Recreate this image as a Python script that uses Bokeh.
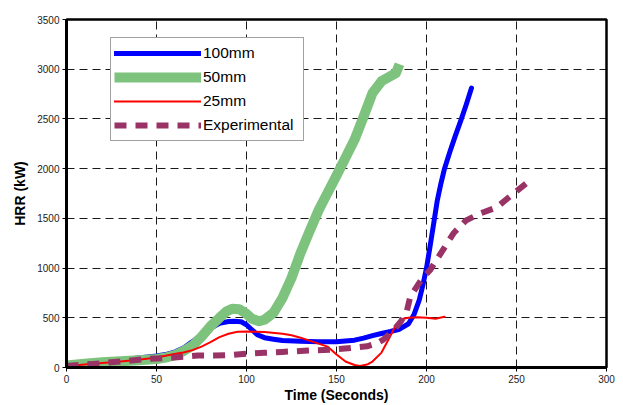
from bokeh.plotting import figure
from bokeh.models import Range1d, FixedTicker, Legend, LegendItem
from bokeh.embed import file_html
from bokeh.resources import INLINE

# ---- data ----
t_100 = [0, 10, 20, 30, 40, 50, 55, 60, 65, 70, 75, 80, 85, 90, 93, 97, 100, 103, 106, 110, 115, 120,
         130, 140, 150, 160, 165, 170, 175, 180, 185, 190, 193, 196, 198, 200, 202, 204, 206, 208,
         210, 213, 216, 219, 222, 225]
hrr_100 = [20, 40, 60, 78, 95, 115, 130, 155, 195, 260, 330, 395, 445, 462, 466, 460, 430, 380, 330, 300,
           285, 272, 265, 260, 260, 275, 295, 320, 342, 362, 385, 440, 530, 680, 830, 1000, 1220, 1450,
           1680, 1850, 2000, 2170, 2330, 2480, 2640, 2810]

t_50 = [0, 10, 20, 30, 40, 50, 55, 60, 65, 70, 75, 80, 85, 89, 92, 96, 100, 103, 107, 110, 115, 120,
        125, 130, 135, 140, 145, 150, 155, 160, 165, 170, 175, 180, 183, 185]
hrr_50 = [20, 38, 52, 63, 72, 85, 100, 125, 165, 220, 310, 415, 500, 565, 590, 585, 540, 490, 465, 480,
          550, 700, 900, 1150, 1370, 1580, 1755, 1930, 2110, 2290, 2520, 2760, 2880, 2930, 2960, 3050]

t_25 = [0, 10, 20, 30, 40, 50, 60, 65, 70, 75, 80, 85, 90, 95, 100, 110, 120, 125, 130, 135, 140, 145,
        150, 155, 160, 163, 167, 170, 175, 180, 183, 187, 190, 195, 200, 205, 210]
hrr_25 = [13, 30, 45, 60, 78, 100, 135, 150, 175, 210, 255, 305, 340, 360, 362, 358, 340, 325, 300, 270,
          240, 210, 130, 60, 25, 15, 30, 60, 150, 320, 430, 490, 500, 505, 500, 490, 510]

t_exp = [0, 15, 30, 45, 60, 73, 82, 93, 100, 110, 120, 134, 148, 160, 167, 172, 176, 182, 186, 189, 191,
         197, 202, 208, 215, 222, 230, 239, 247, 256]
hrr_exp = [16, 36, 60, 86, 100, 120, 120, 128, 138, 148, 157, 170, 180, 200, 213, 240, 280, 380, 470, 563,
           713, 880, 980, 1150, 1350, 1480, 1550, 1610, 1730, 1860]

x_ticks = [0, 50, 100, 150, 200, 250, 300]
y_ticks = [0, 500, 1000, 1500, 2000, 2500, 3000, 3500]

FONT = "Liberation Sans"

p = figure(width=623, height=405, output_backend="svg", toolbar_location=None,
           x_range=Range1d(0, 300), y_range=Range1d(0, 3500),
           min_border_left=66, min_border_right=17, min_border_top=19, min_border_bottom=36,
           background_fill_color="white", border_fill_color="white")

p.outline_line_color = "black"
p.outline_line_width = 2.5
p.outline_line_alpha = 1

for ax, ticks in ((p.xaxis, x_ticks), (p.yaxis, y_ticks)):
    ax.ticker = FixedTicker(ticks=ticks)
    ax.axis_line_color = "black"
    ax.axis_line_width = 3
    ax.major_tick_in = 0
    ax.major_tick_out = 4
    ax.major_tick_line_color = "black"
    ax.minor_tick_line_color = None
    ax.major_label_text_font = FONT
    ax.major_label_text_font_size = "10px"
    ax.major_label_text_color = "#222222"
    ax.major_label_standoff = 3
    ax.axis_label_text_font = FONT
    ax.axis_label_text_font_size = "14px"
    ax.axis_label_text_font_style = "bold"
    ax.axis_label_text_color = "black"

p.xaxis.axis_label = "Time (Seconds)"
p.yaxis.axis_label = "HRR (kW)"
p.xaxis.axis_label_standoff = 1
p.yaxis.axis_label_standoff = 6

p.xgrid.ticker = FixedTicker(ticks=x_ticks)
p.ygrid.ticker = FixedTicker(ticks=y_ticks)
for g in (p.xgrid, p.ygrid):
    g.grid_line_color = "black"
    g.grid_line_dash = "8 5"
    g.grid_line_width = 1
    g.grid_line_alpha = 0.9

r100 = p.line(t_100, hrr_100, line_color="#0000FF", line_width=5, line_cap="round", line_join="round")
r50 = p.line(t_50, hrr_50, line_color="#7DC27D", line_width=10, line_join="round")
r25 = p.line(t_25, hrr_25, line_color="#FF0000", line_width=2, line_cap="round", line_join="round")
rexp = p.line(t_exp, hrr_exp, line_color="#993366", line_width=6, line_dash="12 9", line_join="round")

legend = Legend(items=[LegendItem(label="100mm", renderers=[r100]),
                       LegendItem(label="50mm", renderers=[r50]),
                       LegendItem(label="25mm", renderers=[r25]),
                       LegendItem(label="Experimental", renderers=[rexp])],
                location=(44, 226), padding=3, spacing=0, margin=0,
                glyph_width=87, glyph_height=24, label_height=24, label_width=97,
                label_standoff=2, label_text_font=FONT, label_text_font_size="15.5px",
                label_text_color="black",
                border_line_color="#444444", border_line_width=1,
                background_fill_color="white", background_fill_alpha=1)
p.add_layout(legend)

open("out.html", "w").write(file_html(p, INLINE))
